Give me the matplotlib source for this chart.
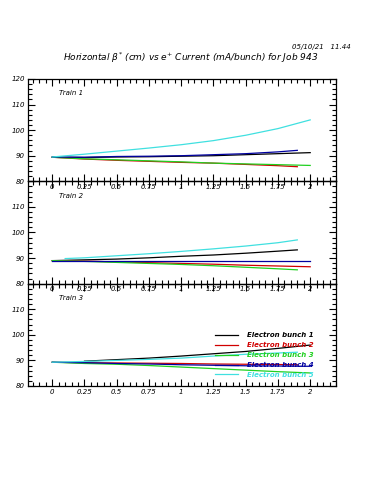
import matplotlib
matplotlib.use("Agg")
import matplotlib.pyplot as plt
from matplotlib.ticker import MultipleLocator, FixedLocator

# ---- data ----
x_std = [0, 0.25, 0.5, 0.75, 1.0, 1.25, 1.5, 1.75, 2.0]
x_short = [0, 0.25, 0.5, 0.75, 1.0, 1.25, 1.5, 1.75, 1.9]

train_names = ["Train 1", "Train 2", "Train 3"]
bunch_labels = ["Electron bunch 1", "Electron bunch 2", "Electron bunch 3",
                "Electron bunch 4", "Electron bunch 5"]
bunch_colors = ["#000000", "#d00000", "#20d020", "#0000a0", "#40e0e0"]

# Train 1
t1_x = [x_std, x_short, x_std, x_short, x_std]
t1_y = [
    [89.4, 89.3, 89.5, 89.6, 89.8, 90.0, 90.4, 90.8, 91.2],
    [89.4, 88.7, 88.2, 87.8, 87.4, 87.1, 86.6, 86.1, 85.7],
    [89.4, 88.8, 88.4, 88.0, 87.6, 87.1, 86.8, 86.5, 86.2],
    [89.5, 89.4, 89.7, 89.8, 90.0, 90.4, 90.8, 91.5, 92.1],
    [89.5, 90.6, 91.8, 93.0, 94.3, 95.9, 98.0, 100.6, 104.0],
]

# Train 2
t2_x = [[0, 0.25, 0.5, 0.75, 1.0, 1.25, 1.5, 1.75, 1.9],
        x_std, x_short, x_std,
        [0.1, 0.25, 0.5, 0.75, 1.0, 1.25, 1.5, 1.75, 1.9]]
t2_y = [
    [89.0, 89.3, 89.6, 90.1, 90.7, 91.2, 91.9, 92.7, 93.2],
    [89.0, 88.8, 88.5, 88.2, 87.9, 87.6, 87.2, 86.9, 86.6],
    [89.0, 88.7, 88.3, 87.9, 87.5, 87.0, 86.4, 85.8, 85.4],
    [89.0, 89.0, 89.0, 89.0, 89.0, 89.0, 89.0, 89.0, 89.0],
    [89.8, 90.1, 90.9, 91.7, 92.6, 93.6, 94.7, 96.0, 97.1],
]

# Train 3
t3_x = [[0.25, 0.5, 0.75, 1.0, 1.25, 1.5, 1.75, 2.0],
        x_short, x_std, x_std, x_short]
t3_y = [
    [89.7, 90.3, 90.9, 91.7, 92.6, 93.5, 94.7, 96.0],
    [89.3, 89.1, 89.0, 88.9, 88.8, 88.6, 88.5, 88.4, 88.3],
    [89.3, 88.8, 88.5, 88.0, 87.4, 86.8, 86.2, 85.6, 85.1],
    [89.3, 89.1, 88.8, 88.6, 88.3, 88.1, 87.9, 87.8, 87.7],
    [89.3, 89.6, 90.0, 90.4, 90.9, 91.7, 92.4, 92.9, 93.2],
]

all_x = [t1_x, t2_x, t3_x]
all_y = [t1_y, t2_y, t3_y]

x_ticks = [0, 0.25, 0.5, 0.75, 1, 1.25, 1.5, 1.75, 2]
x_ticklabels = ["0", "0.25", "0.5", "0.75", "1", "1.25", "1.5", "1.75", "2"]
y_ticks = [80, 90, 100, 110, 120]

title = r"Horizontal $\beta^{*}$ (cm) vs e$^{+}$ Current (mA/bunch) for Job 943"
stamp = "05/10/21   11.44"

# ---- figure ----
fig = plt.figure(figsize=(3.75, 5.0), dpi=100)
fig.patch.set_facecolor("white")

left, width = 0.074, 0.822
ph = 0.2047
bottoms = [0.228 + 2 * ph, 0.228 + ph, 0.228]

for i in range(3):
    ax = fig.add_axes([left, bottoms[i], width, ph])
    for j in range(5):
        ax.plot(all_x[i][j], all_y[i][j], color=bunch_colors[j], lw=0.9,
                label=bunch_labels[j])
    ax.set_xlim(-0.19, 2.2)
    ax.set_ylim(80, 120)
    ax.xaxis.set_major_locator(FixedLocator(x_ticks))
    ax.xaxis.set_minor_locator(MultipleLocator(0.05))
    ax.yaxis.set_major_locator(FixedLocator(y_ticks))
    ax.yaxis.set_minor_locator(MultipleLocator(2))
    ax.set_xticklabels(x_ticklabels)
    ylabs = [str(v) for v in y_ticks]
    if i > 0:
        ylabs[-1] = ""  # shared boundary with panel above
    ax.set_yticklabels(ylabs)
    ax.tick_params(which="both", direction="in", top=True, right=True,
                   width=0.8, colors="black")
    ax.tick_params(which="major", length=5)
    ax.tick_params(which="minor", length=3)
    ax.tick_params(axis="x", labelsize=5, pad=2)
    ax.tick_params(axis="y", labelsize=5, pad=2)
    for lab in ax.get_xticklabels() + ax.get_yticklabels():
        lab.set_fontstyle("italic")
    for sp in ax.spines.values():
        sp.set_linewidth(0.9)
    ax.text(0.1, 0.86, train_names[i], transform=ax.transAxes, fontsize=5,
            fontstyle="italic", va="center", ha="left")
    ax.set_facecolor("none")
    if i == 2:
        leg = ax.legend(loc="upper left", bbox_to_anchor=(0.6, 0.55),
                        frameon=False, fontsize=5, handlelength=3.2,
                        handletextpad=1.3, labelspacing=0.55,
                        borderaxespad=0, labelcolor="linecolor")
        for t in leg.get_texts():
            t.set_fontstyle("italic")
            t.set_fontweight("bold")

fig.text(0.507, 0.884, title, ha="center", va="center", fontsize=6.5,
         fontstyle="italic")
fig.text(0.935, 0.906, stamp, ha="right", va="center", fontsize=5,
         fontstyle="italic")

fig.savefig("out.png", dpi=100)
